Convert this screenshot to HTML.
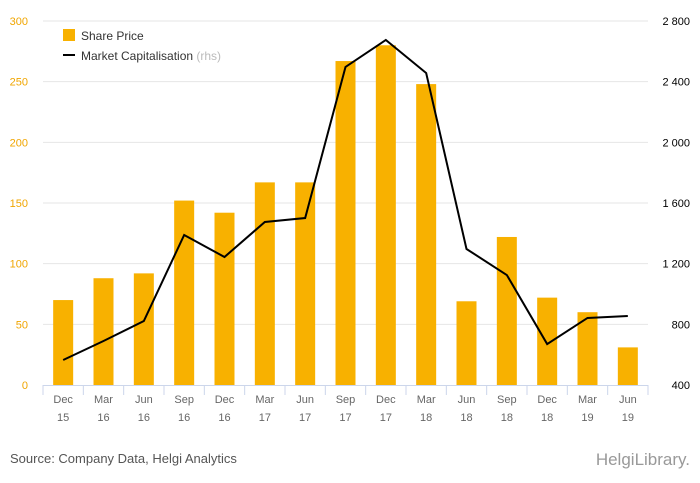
<!DOCTYPE html>
<html><head><meta charset="utf-8"><style>
body{margin:0;background:#fff;font-family:"Liberation Sans",sans-serif;}
svg{display:block}
</style></head><body>
<svg width="700" height="483">
<g id="grid"></g><g id="bars"></g><g id="line"></g><g id="axes"></g>
<g>
<rect x="63" y="29" width="12" height="12" fill="#f8b100"/>
<text x="81" y="40" font-size="12" fill="#333">Share Price</text>
<line x1="63" y1="55" x2="75" y2="55" stroke="#000" stroke-width="2"/>
<text x="81" y="60" font-size="12" fill="#333">Market Capitalisation <tspan fill="#bbb">(rhs)</tspan></text>
</g>
<text x="10" y="463" font-size="13" fill="#555">Source: Company Data, Helgi Analytics</text>
<text x="690" y="465" font-size="17" fill="#999" text-anchor="end">HelgiLibrary.</text>
</svg>
<script>
const categories=[["Dec","15"],["Mar","16"],["Jun","16"],["Sep","16"],["Dec","16"],["Mar","17"],["Jun","17"],["Sep","17"],["Dec","17"],["Mar","18"],["Jun","18"],["Sep","18"],["Dec","18"],["Mar","19"],["Jun","19"]];
const sharePrice=[70,88,92,152,142,167,167,267,280,248,69,122,72,60,31];
const marketCap=[565,690,822,1389,1244,1475,1501,2497,2675,2457,1297,1125,670,842,855];
const leftTicks=[0,50,100,150,200,250,300];
const rightTicks=["400","800","1 200","1 600","2 000","2 400","2 800"];
const rightVals=[400,800,1200,1600,2000,2400,2800];
const NS="http://www.w3.org/2000/svg";
const x0=43,x1=648,yb=385,yt=21;
const step=(x1-x0)/categories.length;
const xc=i=>x0+step*(i+0.5);
const yL=v=>yb-(v/300)*(yb-yt);
const yR=v=>yb-((v-400)/2400)*(yb-yt);
function mk(tag,attrs,parent){const e=document.createElementNS(NS,tag);for(const k in attrs)e.setAttribute(k,attrs[k]);document.getElementById(parent).appendChild(e);return e;}
leftTicks.forEach((t,i)=>{
 if(t>0){const g=mk('line',{x1:x0,x2:x1,y1:yL(t),y2:yL(t),stroke:'#e6e6e6'},'grid');
 
 }
 const l=mk('text',{x:28,y:yL(t)+4,'font-size':11,fill:'#f0a500','text-anchor':'end'},'axes');l.textContent=t;
 
 
});
rightVals.forEach((v,i)=>{
 const l=mk('text',{x:690,y:yR(v)+4,'font-size':11,fill:'#000','text-anchor':'end'},'axes');l.textContent=rightTicks[i];
 
 
});
sharePrice.forEach((v,i)=>{
 const b=mk('rect',{x:xc(i)-10,y:yL(v),width:20,height:yb-yL(v),fill:'#f8b100'},'bars');
 
 
});
const p=mk('polyline',{points:marketCap.map((v,i)=>xc(i)+','+yR(v)).join(' '),fill:'none',stroke:'#000','stroke-width':2},'line');


const ax=mk('line',{x1:x0,x2:x1,y1:yb+0.5,y2:yb+0.5,stroke:'#ccd6eb'},'axes');


for(let i=0;i<=categories.length;i++){
 const t=mk('line',{x1:x0+step*i,x2:x0+step*i,y1:yb,y2:yb+10,stroke:'#ccd6eb'},'axes');
 
 
}
categories.forEach((c,i)=>{
 [0,1].forEach(j=>{
 const l=mk('text',{x:xc(i),y:403+j*18,'font-size':11,fill:'#666','text-anchor':'middle'},'axes');l.textContent=c[j];
 
 
 });
});
</script>
</body></html>
